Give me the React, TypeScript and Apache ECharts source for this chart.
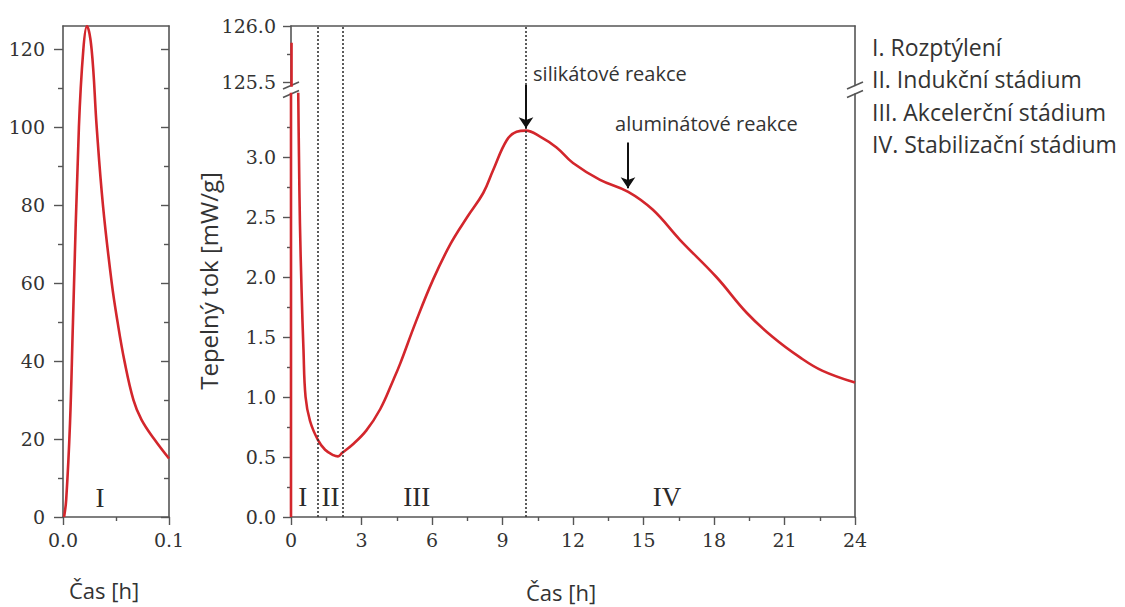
import React, { useEffect, useRef } from 'react';
import * as echarts from 'echarts';

// ---------- data ----------
// Left panel: first 0.1 h
const leftTime = [0.001, 0.003, 0.0066, 0.0094, 0.015, 0.0192, 0.0226, 0.027, 0.0318, 0.0377, 0.046, 0.0515, 0.058, 0.0665, 0.074, 0.086, 0.1];
const leftFlow = [0, 4.4, 24, 50, 100, 120, 126, 120, 100, 80, 60, 50, 40, 30, 25, 20, 15];

// Right panel: 0 - 24 h
const rightTime = [0, 0.0226, 0.05, 0.1, 0.2, 0.31, 0.34, 0.38, 0.45, 0.53, 0.62, 0.81, 1.15, 1.45, 1.8, 2.0, 2.18, 2.6, 3.2, 3.8, 4.35, 4.65, 5.3, 6.05, 6.8, 7.5, 8.18, 8.6, 9.18, 9.6, 10, 10.6, 11.3, 12, 13.15, 14.35, 15.4, 16.55, 18.1, 19.4, 20.5, 21.66, 22.6, 24];
const rightFlow = [0, 125.85, 50, 15, 6, 3.5, 3.0, 2.45, 1.89, 1.4, 1.0, 0.8, 0.64, 0.56, 0.515, 0.505, 0.535, 0.6, 0.72, 0.9, 1.14, 1.28, 1.62, 1.98, 2.28, 2.5, 2.7, 2.89, 3.14, 3.21, 3.22, 3.17, 3.08, 2.95, 2.81, 2.71, 2.56, 2.31, 2.0, 1.7, 1.5, 1.33, 1.22, 1.12];

// tick values
const leftYMajor = [0, 20, 40, 60, 80, 100, 120];
const leftYMinor = [10, 30, 50, 70, 90, 110];
const leftXMajor = [0, 0.1];
const leftXMinor = [0.05];
const upperYMajor = [125.5, 126];
const upperYMinor = [125.75];
const lowerYMajor = [0, 0.5, 1.0, 1.5, 2.0, 2.5, 3.0];
const lowerYMinor = [0.25, 0.75, 1.25, 1.75, 2.25, 2.75, 3.25];

// stage boundaries (dotted lines) and stage labels
const stageBounds = [1.15, 2.2, 10];
const stageNames = ['I', 'II', 'III', 'IV'];
const stageNameTime = [0.5, 1.68, 5.35, 16.0];
const stageNameFlow = 0.17;
const leftStageName = 'I';
const leftStageTime = 0.035;
const leftStageFlow = 5;

// annotations
const annoTexts = ['silikátové reakce', 'aluminátové reakce'];
const annoTextTime = [10.3, 13.79];
const annoTextFlow = [3.7, 3.28];
const arrowTime = [10, 14.34];
const arrowFrom = [3.6, 3.12];
const arrowTo = [3.24, 2.74];

const legendLines = ['I. Rozptýlení', 'II. Indukční stádium', 'III. Akcelerční stádium', 'IV. Stabilizační stádium'];

// ---------- styles / layout ----------
const RED = '#d3262c';
const AX = '#555';
const TXT = '#333';
const SERIF = 'DejaVu Serif';
const SANS = 'Open Sans';
const tickFont = { color: TXT, fontFamily: SERIF, fontSize: 19 };

const LG = { left: 63, top: 26, width: 106, height: 491 };
const RG = { left: 291, width: 564, top: 26, breakTop: 85.5, breakBottom: 94, bottom: 517 };
const pxPerUpper = 112; // px per mW/g in upper segment
const pxPerLower = 120; // px per mW/g in lower segment
const upperMin = 126 - (RG.breakTop - RG.top) / pxPerUpper;
const lowerMax = (RG.bottom - RG.breakBottom) / pxPerLower;
const overlayMax = (RG.bottom - RG.top) / pxPerLower;

const zip = (a: number[], b: number[]) => a.map((v, i) => [v, b[i]]);
const axLine = { show: true, onZero: false, lineStyle: { color: AX, width: 1.6 } };
const tickStyle = { color: AX, width: 1.4 };

function App() {
  const ref = useRef<HTMLDivElement>(null);
  useEffect(() => {
    const el = ref.current!;
    const chart = echarts.init(el, undefined, { renderer: 'svg' });

    const lineSeries = (xi: number, yi: number, data: number[][]) => ({
      type: 'line', xAxisIndex: xi, yAxisIndex: yi, data,
      smooth: 0.4, showSymbol: false, symbol: 'none', clip: true,
      lineStyle: { color: RED, width: 2.6 }, silent: true,
    });

    const hiddenY = (gridIndex: number, min: number, max: number, extra: any) => ({
      type: 'value', gridIndex, min, max, splitLine: { show: false }, ...extra,
    });

    const romanLabel = {
      show: true, position: [0, 0], align: 'center', verticalAlign: 'middle',
      formatter: (p: any) => p.value[2],
      fontFamily: 'Liberation Serif', fontSize: 27, color: '#2a2a2a', textBorderWidth: 0,
    };
    const textItem = { opacity: 1, color: '#2a2a2a' };

    const option: any = {
      animation: false,
      grid: [
        { left: LG.left, top: LG.top, width: LG.width, height: LG.height },
        { left: RG.left, top: RG.top, width: RG.width, height: RG.breakTop - RG.top },
        { left: RG.left, top: RG.breakBottom, width: RG.width, height: RG.bottom - RG.breakBottom },
        { left: RG.left, top: RG.top, width: RG.width, height: RG.bottom - RG.top },
      ],
      xAxis: [
        { type: 'value', gridIndex: 0, min: 0, max: 0.1, position: 'bottom', axisLine: axLine,
          axisTick: { show: true, customValues: leftXMajor, length: 8, lineStyle: tickStyle },
          axisLabel: { customValues: leftXMajor, formatter: (v: number) => v.toFixed(1), margin: 13, ...tickFont },
          splitLine: { show: false } },
        { type: 'value', gridIndex: 0, min: 0, max: 0.1, position: 'bottom', axisLine: { show: false, onZero: false },
          axisTick: { show: true, customValues: leftXMinor, length: 4, lineStyle: tickStyle },
          axisLabel: { show: false }, splitLine: { show: false } },
        { type: 'value', gridIndex: 0, min: 0, max: 0.1, position: 'top', axisLine: axLine,
          axisTick: { show: false }, axisLabel: { show: false }, splitLine: { show: false } },
        { type: 'value', gridIndex: 1, min: 0, max: 24, position: 'top', axisLine: axLine,
          axisTick: { show: false }, axisLabel: { show: false }, splitLine: { show: false } },
        { type: 'value', gridIndex: 2, min: 0, max: 24, interval: 3, position: 'bottom', axisLine: axLine,
          axisTick: { show: true, length: 8, lineStyle: tickStyle },
          minorTick: { show: true, splitNumber: 2, length: 4, lineStyle: tickStyle },
          axisLabel: { margin: 13, ...tickFont }, splitLine: { show: false } },
        { type: 'value', gridIndex: 3, min: 0, max: 24, show: false, splitLine: { show: false } },
      ],
      yAxis: [
        hiddenY(0, 0, 126, { position: 'left', axisLine: axLine,
          axisTick: { show: true, customValues: leftYMajor, length: 9, lineStyle: tickStyle },
          axisLabel: { customValues: leftYMajor, margin: 18, ...tickFont } }),
        hiddenY(0, 0, 126, { position: 'left', axisLine: { show: false, onZero: false },
          axisTick: { show: true, customValues: leftYMinor, length: 5, lineStyle: tickStyle }, axisLabel: { show: false } }),
        hiddenY(0, 0, 126, { position: 'right', axisLine: axLine,
          axisTick: { show: true, inside: true, customValues: leftYMajor, length: 8, lineStyle: tickStyle }, axisLabel: { show: false } }),
        hiddenY(0, 0, 126, { position: 'right', axisLine: { show: false, onZero: false },
          axisTick: { show: true, inside: true, customValues: leftYMinor, length: 5, lineStyle: tickStyle }, axisLabel: { show: false } }),
        hiddenY(1, upperMin, 126, { position: 'left', axisLine: axLine,
          axisTick: { show: true, customValues: upperYMajor, length: 8, lineStyle: tickStyle },
          axisLabel: { customValues: upperYMajor, formatter: (v: number) => v.toFixed(1), margin: 15, ...tickFont } }),
        hiddenY(1, upperMin, 126, { position: 'left', axisLine: { show: false, onZero: false },
          axisTick: { show: true, customValues: upperYMinor, length: 4, lineStyle: tickStyle }, axisLabel: { show: false } }),
        hiddenY(1, upperMin, 126, { position: 'right', axisLine: axLine, axisTick: { show: false }, axisLabel: { show: false } }),
        hiddenY(2, 0, lowerMax, { position: 'left', axisLine: axLine,
          axisTick: { show: true, customValues: lowerYMajor, length: 8, lineStyle: tickStyle },
          axisLabel: { customValues: lowerYMajor, formatter: (v: number) => v.toFixed(1), margin: 15, ...tickFont } }),
        hiddenY(2, 0, lowerMax, { position: 'left', axisLine: { show: false, onZero: false },
          axisTick: { show: true, customValues: lowerYMinor, length: 4, lineStyle: tickStyle }, axisLabel: { show: false } }),
        hiddenY(2, 0, lowerMax, { position: 'right', axisLine: axLine, axisTick: { show: false }, axisLabel: { show: false } }),
        hiddenY(3, 0, overlayMax, { show: false }),
      ],
      series: [
        lineSeries(0, 0, zip(leftTime, leftFlow)),
        lineSeries(3, 4, zip(rightTime, rightFlow)),
        lineSeries(4, 7, zip(rightTime, rightFlow)),
        {
          type: 'scatter', xAxisIndex: 4, yAxisIndex: 7, symbolSize: 0, silent: true, itemStyle: textItem,
          data: stageNames.map((n, i) => [stageNameTime[i], stageNameFlow, n]),
          label: romanLabel,
        },
        {
          type: 'scatter', xAxisIndex: 0, yAxisIndex: 0, symbolSize: 0, silent: true, itemStyle: textItem,
          data: [[leftStageTime, leftStageFlow, leftStageName]],
          label: romanLabel,
        },
        {
          type: 'line', xAxisIndex: 5, yAxisIndex: 10, data: [], silent: true,
          markLine: { silent: true, symbol: ['none', 'none'], label: { show: false },
            lineStyle: { color: '#333', width: 1.6, type: [2, 2] },
            data: stageBounds.map((b) => ({ xAxis: b })) },
        },
        {
          type: 'line', xAxisIndex: 5, yAxisIndex: 10, data: [], silent: true,
          markLine: { silent: true, symbol: ['none', 'arrow'], symbolSize: 11, label: { show: false },
            lineStyle: { color: '#111', width: 2, type: 'solid' },
            itemStyle: { color: '#111' },
            data: arrowTime.map((t, i) => [{ coord: [t, arrowFrom[i]] }, { coord: [t, arrowTo[i]] }]) },
        },
        {
          type: 'scatter', xAxisIndex: 5, yAxisIndex: 10, symbolSize: 0, silent: true, itemStyle: textItem,
          data: annoTexts.map((s, i) => [annoTextTime[i], annoTextFlow[i], s]),
          label: { show: true, position: 'right', distance: 0, formatter: (p: any) => p.value[2],
            fontFamily: SANS, fontSize: 20, color: TXT },
        },
      ],
      graphic: [
        // axis break marks
        ...[RG.left, RG.left + RG.width].flatMap((x) => [RG.breakTop, RG.breakBottom].map((y) => ({
          type: 'line', silent: true,
          shape: { x1: x - 8, y1: y + 3.5, x2: x + 8, y2: y - 3.5 },
          style: { stroke: AX, lineWidth: 1.6 },
        }))),
        { type: 'text', x: 208, y: 281, rotation: Math.PI / 2, silent: true,
          style: { text: 'Tepelný tok [mW/g]', fontFamily: SANS, fontSize: 24, fill: TXT, align: 'center', verticalAlign: 'middle' } },
        { type: 'text', x: 104, y: 590, silent: true,
          style: { text: 'Čas [h]', fontFamily: SANS, fontSize: 22, fill: TXT, align: 'center', verticalAlign: 'middle' } },
        { type: 'text', x: 561, y: 592, silent: true,
          style: { text: 'Čas [h]', fontFamily: SANS, fontSize: 22, fill: TXT, align: 'center', verticalAlign: 'middle' } },
        ...legendLines.map((s, i) => ({
          type: 'text', x: 872, y: 47 + i * 32.3, silent: true,
          style: { text: s, fontFamily: SANS, fontSize: 23, fill: TXT, align: 'left', verticalAlign: 'middle' },
        })),
      ],
    };
    chart.setOption(option);
    return () => chart.dispose();
  }, []);
  return <div ref={ref} style={{ position: 'absolute', left: 0, top: 0, width: 1125, height: 607, background: '#fff' }} />;
}

export default App;
